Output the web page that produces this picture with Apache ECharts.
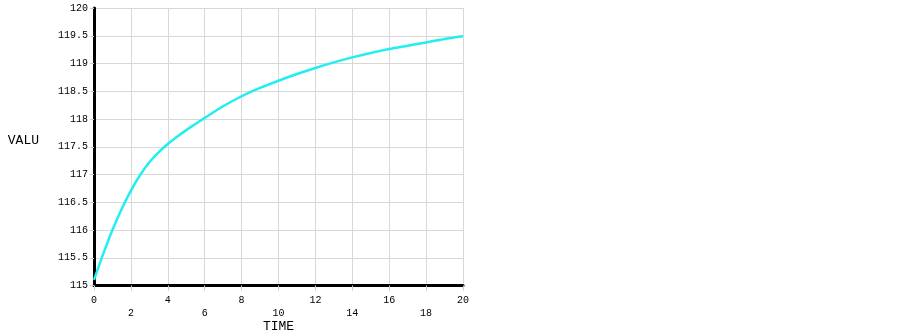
<!DOCTYPE html>
<html>
<head>
<meta charset="utf-8">
<script src="https://cdn.jsdelivr.net/npm/echarts@6/dist/echarts.min.js"></script>
<style>
html,body{margin:0;padding:0;background:#fff;}
#chart{width:903px;height:336px;}
</style>
</head>
<body>
<div id="chart"></div>
<script>
// Data
var timeValues = [0, 0.5, 1, 1.5, 2, 2.5, 3, 3.5, 4, 4.5, 5, 5.5, 6, 7, 8, 9, 10, 11, 12, 13, 14, 15, 16, 17, 18, 19, 20];
var valuValues = [115.1, 115.57, 116.0, 116.38, 116.71, 116.99, 117.22, 117.4, 117.55, 117.68, 117.8, 117.91, 118.02, 118.23, 118.41, 118.56, 118.69, 118.81, 118.92, 119.02, 119.11, 119.19, 119.26, 119.32, 119.38, 119.44, 119.49];
var xAxisName = 'TIME';
var yAxisName = 'VALU';

var points = timeValues.map(function (t, i) { return [t, valuValues[i]]; });

var chart = echarts.init(document.getElementById('chart'), null, {renderer: 'canvas'});
var mono = '"Liberation Mono", "Courier New", monospace';
chart.setOption({
  animation: false,
  backgroundColor: '#ffffff',
  grid: {left: 94, right: 440, top: 8, bottom: 50.5, containLabel: false, outerBoundsMode: 'none'},
  xAxis: {
    type: 'value',
    min: 0, max: 20, interval: 2,
    name: xAxisName,
    nameLocation: 'middle',
    nameGap: 35,
    nameMoveOverlap: false,
    nameTextStyle: {fontFamily: mono, fontSize: 13, color: '#000'},
    axisLine: {show: true, onZero: false, lineStyle: {color: '#000', width: 3}},
    axisTick: {show: true, length: 5, lineStyle: {color: '#c8c8c8', width: 1}},
    axisLabel: {
      margin: 8,
      fontFamily: mono, fontSize: 10, color: '#000', lineHeight: 13,
      formatter: function (v) {
        var idx = Math.round(v / 2);
        return idx % 2 === 1 ? '\n' + v : String(v);
      }
    },
    splitLine: {show: true, lineStyle: {color: '#d8d8d8', width: 1}}
  },
  yAxis: {
    type: 'value',
    min: 115, max: 120, interval: 0.5,
    name: yAxisName,
    nameLocation: 'middle',
    nameRotate: 0,
    nameGap: 55,
    nameTextStyle: {fontFamily: mono, fontSize: 13, color: '#000', verticalAlign: 'bottom'},
    axisLine: {show: true, onZero: false, lineStyle: {color: '#000', width: 3}},
    axisTick: {show: true, length: 4, lineStyle: {color: '#c8c8c8', width: 1}},
    axisLabel: {margin: 6, fontFamily: mono, fontSize: 10, color: '#000', padding: [0, 0, 5, 0]},
    splitLine: {show: true, lineStyle: {color: '#d8d8d8', width: 1}}
  },
  series: [{
    type: 'line',
    data: points,
    smooth: 0.3,
    showSymbol: false,
    lineStyle: {color: '#22eef0', width: 2.5},
    itemStyle: {color: '#22eef0'}
  }]
});
</script>
</body>
</html>
